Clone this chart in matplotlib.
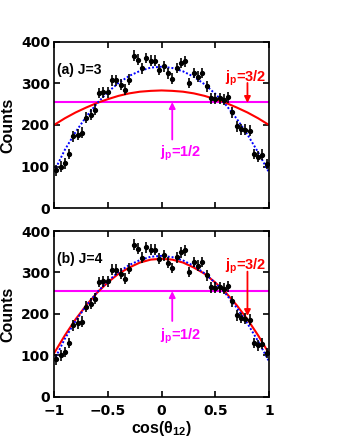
import matplotlib
matplotlib.use("Agg")
import matplotlib.pyplot as plt
import numpy as np

plt.rcParams['font.family'] = ['Liberation Sans', 'DejaVu Sans']
plt.rcParams['font.weight'] = 'bold'
plt.rcParams['mathtext.fontset'] = 'custom'
plt.rcParams['mathtext.rm'] = 'Liberation Sans:bold'
plt.rcParams['mathtext.bf'] = 'Liberation Sans:bold'
plt.rcParams['mathtext.it'] = 'Liberation Sans:bold'
plt.rcParams['mathtext.default'] = 'bf'

# measured data (same in both panels)
cos_x = [-0.98, -0.94, -0.90, -0.86, -0.82, -0.78, -0.74, -0.70, -0.66, -0.62,
         -0.58, -0.54, -0.50, -0.46, -0.42, -0.38, -0.34, -0.30, -0.26, -0.22,
         -0.18, -0.14, -0.10, -0.06, -0.02, 0.02, 0.06, 0.10, 0.14, 0.18,
         0.22, 0.26, 0.30, 0.34, 0.38, 0.42, 0.46, 0.50, 0.54, 0.58,
         0.62, 0.66, 0.70, 0.74, 0.78, 0.82, 0.86, 0.90, 0.94, 0.98]
counts = [91, 100, 108, 130, 173, 177, 181, 217, 225, 237,
          277, 279, 279, 307, 307, 297, 285, 309, 367, 357,
          336, 361, 355, 355, 333, 341, 324, 311, 337, 349,
          353, 301, 325, 316, 325, 293, 264, 263, 264, 261,
          267, 230, 197, 190, 189, 186, 130, 124, 128, 106]
count_err = 13

# curves read at 0.1 steps
curve_x = [-1.0, -0.9, -0.8, -0.7, -0.6, -0.5, -0.4, -0.3, -0.2, -0.1, 0.0,
           0.1, 0.2, 0.3, 0.4, 0.5, 0.6, 0.7, 0.8, 0.9, 1.0]
fit_blue = [88, 140, 183, 220, 252, 279, 301, 318, 330, 338, 340,
            337, 329, 316, 298, 275, 248, 215, 177, 134, 86]
red_J3 = [200, 216, 230, 242, 253, 262, 270, 276, 280, 282, 283,
          282, 280, 276, 270, 262, 253, 242, 230, 216, 200]
red_J4 = [105, 148, 187, 221, 251, 276, 297, 312, 324, 331, 333,
          331, 324, 312, 297, 276, 251, 221, 187, 148, 105]
jp_half = 255

panels = [
    dict(label="(a) J=3", red=red_J3, pos=[0.159, 0.527, 0.632, 0.378],
         mag_tail=165, mag_txt=124, red_tail=301, red_tip=253, red_txt=305),
    dict(label="(b) J=4", red=red_J4, pos=[0.159, 0.098, 0.632, 0.377],
         mag_tail=183, mag_txt=137, red_tail=302, red_tip=195, red_txt=306),
]

fig = plt.figure(figsize=(3.4, 4.4), dpi=100)
magenta = '#ff00ff'
red = '#ff0000'

for i, p in enumerate(panels):
    ax = fig.add_axes(p['pos'])
    ax.axhline(jp_half, color=magenta, lw=1.5)
    ax.plot(curve_x, p['red'], color=red, lw=1.5)
    ax.plot(curve_x, fit_blue, color='#0000ff', lw=1.4, ls=(0, (1, 1)))
    ax.errorbar(cos_x, counts, yerr=count_err, fmt='o', color='black',
                ms=2.8, lw=1.2, capsize=0, zorder=5)

    ax.annotate('', xy=(0.1, jp_half), xytext=(0.1, p['mag_tail']),
                arrowprops=dict(arrowstyle='-|>', color=magenta, lw=1.3,
                                mutation_scale=9, shrinkA=0, shrinkB=0))
    ax.annotate('', xy=(0.8, p['red_tip']), xytext=(0.8, p['red_tail']),
                arrowprops=dict(arrowstyle='-|>', color=red, lw=1.3,
                                mutation_scale=9, shrinkA=0, shrinkB=0))
    ax.text(-0.01, p['mag_txt'], '$j_p$=1/2', color=magenta, fontsize=10.5,
            fontweight='bold', ha='left', va='baseline')
    ax.text(0.59, p['red_txt'], '$j_p$=3/2', color=red, fontsize=10.5,
            fontweight='bold', ha='left', va='baseline')
    ax.text(-0.97, 333, p['label'], fontsize=10, fontweight='bold',
            ha='left', va='center')

    ax.set_xlim(-1, 1)
    ax.set_ylim(0, 400)
    ax.set_xticks([-1, -0.5, 0, 0.5, 1])
    ax.set_yticks([0, 100, 200, 300, 400])
    ax.tick_params(direction='in', top=True, right=True, length=4,
                   width=1.2, labelsize=10)
    ax.tick_params(axis='y', pad=3)
    ax.tick_params(axis='x', pad=5)
    for s in ax.spines.values():
        s.set_linewidth(1.2)
    ax.set_ylabel('Counts', fontsize=11.5, fontweight='bold', labelpad=4)
    if i == 0:
        ax.set_xticklabels([])
    else:
        ax.set_xticklabels(['\u22121', '\u22120.5', '0', '0.5', '1'])
        ax.set_xlabel(r'cos($\theta_{12}$)', fontsize=11.5, fontweight='bold',
                      labelpad=1)
    for lab in ax.get_xticklabels() + ax.get_yticklabels():
        lab.set_family('DejaVu Sans')
        lab.set_fontweight('bold')

fig.savefig("out.png", dpi=100)
